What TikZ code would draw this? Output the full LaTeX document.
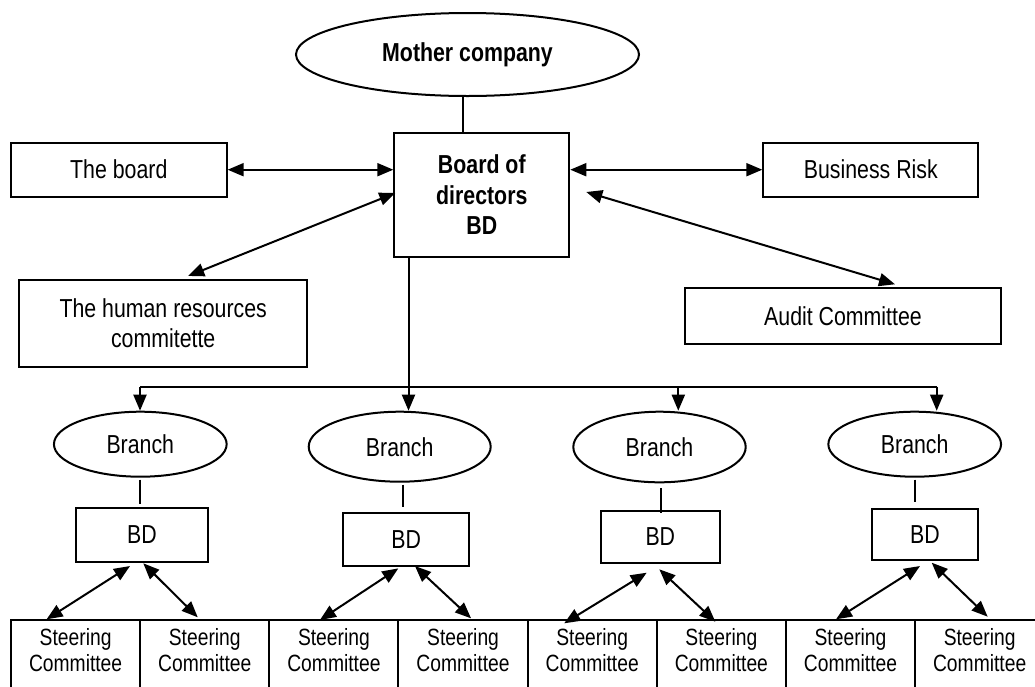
\documentclass[tikz,border=0pt]{standalone}
\usepackage{fontspec}
\setmainfont{Liberation Sans}[FakeStretch=0.82]
\usetikzlibrary{shapes.geometric,arrows.meta,calc}
\begin{document}
\begin{tikzpicture}[x=1pt,y=-1pt,
  lw/.style={line width=2pt},
  mainfont/.style={font=\fontsize{26}{30.5}\selectfont},
  box/.style={draw,lw,rectangle,inner sep=0pt,align=center,mainfont},
  oval/.style={draw,lw,ellipse,inner sep=0pt,align=center,mainfont},
  stbox/.style={draw,lw,rectangle,inner sep=0pt,anchor=north,minimum width=129.15pt,minimum height=100pt},
  sttext/.style={inner sep=0pt,align=center,font=\fontsize{23.5}{26}\selectfont},
  con/.style={lw},
  arr/.style={lw,-{Triangle[length=16pt,width=13pt]}},
  darr/.style={lw,{Triangle[length=16pt,width=13pt]}-{Triangle[length=16pt,width=13pt]}}
]
\useasboundingbox (0,0) rectangle (1035,686);
\clip (0,0) rectangle (1035,686);
\fill[white] (0,0) rectangle (1035,686);

% top level
\node[oval,minimum width=343pt,minimum height=83pt,font=\fontsize{26}{30.5}\selectfont\bfseries] (mc) at (467.5,54.5) {Mother company};
\node[box,minimum width=175pt,minimum height=123.4pt,font=\fontsize{26}{30.5}\selectfont\bfseries] (bod) at (481.8,195) {Board of\\directors\\BD};
\node[box,minimum width=215.7pt,minimum height=54pt] (board) at (118.8,169.7) {The board};
\node[box,minimum width=215pt,minimum height=54pt] (risk) at (870.8,169.7) {Business Risk};
\node[box,minimum width=288.3pt,minimum height=86.7pt] (hr) at (163.2,323.3) {The human resources\\commitette};
\node[box,minimum width=316pt,minimum height=56pt] (audit) at (843,316.3) {Audit Committee};

% branches
\node[oval,minimum width=172.7pt,minimum height=65pt] (b1) at (140.3,444.2) {Branch};
\node[oval,minimum width=182pt,minimum height=70pt] (b2) at (399.7,446.7) {Branch};
\node[oval,minimum width=172.4pt,minimum height=70.6pt] (b3) at (659.5,447) {Branch};
\node[oval,minimum width=172.7pt,minimum height=65pt] (b4) at (914.7,444.2) {Branch};

\node[box,minimum width=132.6pt,minimum height=53.4pt] (bd1) at (142,535) {BD};
\node[box,minimum width=126pt,minimum height=52.7pt] (bd2) at (406.3,539.7) {BD};
\node[box,minimum width=118.7pt,minimum height=52.6pt] (bd3) at (660.3,537) {BD};
\node[box,minimum width=106.6pt,minimum height=51pt] (bd4) at (925,534.5) {BD};

% steering committees
\foreach \i in {1,...,8}{
  \node[stbox] (s\i) at ({75.6+129.15*(\i-1)},619.3) {};
  \node[sttext] (s\i t) at ($(s\i.north)+(0,31)$) {Steering\\Committee};
}

% connectors at top
\draw[con] ($(mc.south)+(-4.5,0)$) -- ($(mc.south |- bod.north)+(-4.5,0)$);
\draw[darr] (board.east) -- (board.east -| bod.west);
\draw[darr] (bod.east |- risk.west) -- (risk.west);
\draw[darr] ($(hr.north)+(25,-3)$) -- ($(bod.west)+(2,-2)$);
\draw[darr] ($(bod.east)+(16,-3)$) -- ($(audit.north)+(52,-3)$);

% trunk to branches
\coordinate (j1) at (140,386.7);
\coordinate (j2) at (408.5,386.7);
\coordinate (j3) at (678.3,386.7);
\coordinate (j4) at (936.7,386.7);
\draw[con] (j2 |- bod.south) -- (j2);
\draw[con] (j1) -- (j4);
\draw[arr] (j1) -- (j1 |- b1.north);
\draw[arr] (j2) -- (j2 |- b2.north);
\draw[arr] (j3) -- (j3 |- b3.north);
\draw[arr] (j4) -- (j4 |- b4.north);

% branch to BD
\draw[con] ($(b1.south)+(0,2)$) -- ($(b1.south |- bd1.north)+(0,-3)$);
\draw[con] ($(b2.south)+(3,2)$) -- ($(b2.south |- bd2.north)+(3,-5)$);
\draw[con] ($(b3.south)+(1.5,5)$) -- ($(b3.south |- bd3.north)+(1.5,3)$);
\draw[con] ($(b4.south)+(0.3,2)$) -- ($(b4.south |- bd4.north)+(0.3,-6)$);

% BD to steering committees
\draw[darr] ($(bd1.south)+(-12,3.3)$) -- ($(s1.north)+(-29,0)$);
\draw[darr] ($(bd1.south)+(1.3,0.6)$) -- ($(s2.north)+(-7,-2)$);
\draw[darr] ($(bd2.south)+(-8,1.3)$) -- ($(s3.north)+(-14,0.7)$);
\draw[darr] ($(bd2.south)+(8.7,-1)$) -- ($(s4.north)+(8,-1)$);
\draw[darr] ($(bd3.south)+(-13.6,8.4)$) -- ($(s5.north)+(-28,4)$);
\draw[darr] ($(bd3.south)+(-1,5)$) -- ($(s6.north)+(-6,2.4)$);
\draw[darr] ($(bd4.south)+(-5,5)$) -- ($(s7.north)+(-14.5,0)$);
\draw[darr] ($(bd4.south)+(6.7,1.7)$) -- ($(s8.north)+(8,-2.6)$);
\end{tikzpicture}
\end{document}
